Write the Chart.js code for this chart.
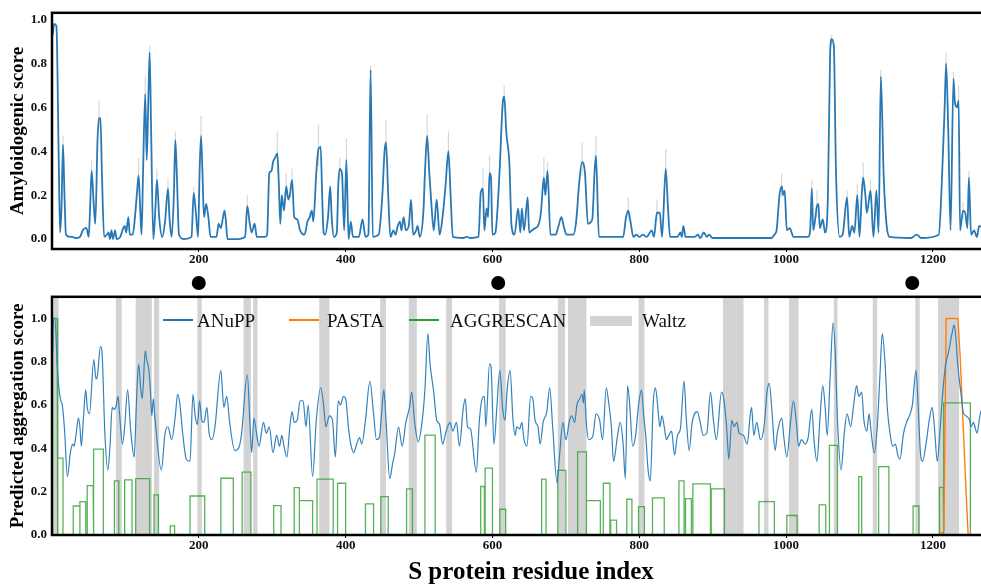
<!DOCTYPE html>
<html>
<head>
<meta charset="utf-8">
<script src="https://cdn.jsdelivr.net/npm/chart.js@4.4.1/dist/chart.umd.min.js"></script>
<style>
  html, body { margin: 0; padding: 0; background: #fff; }
  body { width: 981px; height: 585px; overflow: hidden; position: relative; font-family: "Liberation Serif", "Times New Roman", serif; }
  canvas { position: absolute; left: 0; }
  #topChart { top: 0; }
  #markChart { top: 268px; }
  #bottomChart { top: 284px; }
  .legend-line { position: absolute; width: 30px; height: 0; }
  .legend-box { position: absolute; background: #d3d3d3; }
  .legend-text { position: absolute; font-size: 19px; line-height: 19px; color: #111; white-space: nowrap; }
</style>
</head>
<body>
<canvas id="topChart" width="1012" height="300" style="width:1012px;height:300px"></canvas>
<canvas id="bottomChart" width="1012" height="304" style="width:1012px;height:304px"></canvas>
<canvas id="markChart" width="1012" height="30" style="width:1012px;height:30px"></canvas>

<div class="legend-line" style="left:163px;top:319px;border-top:2px solid #1f77b4"></div>
<div class="legend-text" style="left:197px;top:311px">ANuPP</div>
<div class="legend-line" style="left:289px;top:319px;border-top:2px solid #ff7f0e"></div>
<div class="legend-text" style="left:327px;top:311px">PASTA</div>
<div class="legend-line" style="left:409px;top:319px;border-top:2px solid #2ca02c"></div>
<div class="legend-text" style="left:450px;top:311px">AGGRESCAN</div>
<div class="legend-box" style="left:590px;top:316px;width:42px;height:10px"></div>
<div class="legend-text" style="left:642px;top:311px">Waltz</div>

<script>
// ---- data ----
const xTicks = [200, 400, 600, 800, 1000, 1200];
const yTicks = [0, 0.2, 0.4, 0.6, 0.8, 1.0];

// top panel: amyloidogenic score [residue, score]
const amyloidScore = [[1,0.93],[3,0.98],[6,0.97],[9,0.4],[11,0.03],[13,0.15],[15,0.43],[17,0.2],[19,0.02],[25,0.01],[28,0.01],[32,0.005],[38,0.01],[42,0.04],[45,0.05],[47,0.05],[50,0.01],[52,0.15],[54,0.31],[57,0.15],[59,0.07],[62,0.45],[64,0.55],[66,0.55],[68,0.3],[71,0.01],[75,0.02],[77,0.03],[79,0.0],[81,0.04],[83,0.0],[86,0.04],[88,0.0],[93,0.01],[97,0.05],[99,0.06],[101,0.03],[104,0.1],[106,0.02],[110,0.02],[113,0.1],[116,0.22],[118,0.29],[120,0.15],[122,0.02],[124,0.3],[127,0.66],[129,0.36],[131,0.6],[133,0.85],[135,0.5],[138,0.0],[141,0.15],[143,0.27],[146,0.1],[150,0.01],[154,0.08],[158,0.23],[160,0.1],[163,0.01],[166,0.2],[168,0.45],[170,0.3],[173,0.02],[180,0.0],[190,0.01],[193,0.21],[196,0.12],[199,0.01],[201,0.3],[203,0.47],[205,0.3],[207,0.1],[210,0.16],[213,0.1],[216,0.01],[224,0.01],[227,0.07],[230,0.05],[233,0.1],[235,0.13],[237,0.08],[239,0.0],[250,0.0],[263,0.01],[266,0.15],[269,0.08],[272,0.03],[276,0.07],[279,0.01],[290,0.01],[293,0.02],[296,0.3],[299,0.31],[301,0.35],[304,0.37],[307,0.39],[309,0.25],[311,0.07],[313,0.2],[316,0.13],[319,0.24],[322,0.18],[324,0.2],[327,0.27],[330,0.1],[334,0.09],[338,0.04],[344,0.02],[348,0.08],[351,0.1],[354,0.13],[356,0.08],[360,0.3],[363,0.41],[366,0.42],[368,0.2],[370,0.03],[372,0.02],[376,0.1],[379,0.24],[381,0.1],[384,0.01],[388,0.03],[390,0.25],[392,0.32],[395,0.3],[398,0.04],[401,0.36],[404,0.0],[407,0.08],[410,0.01],[418,0.01],[423,0.09],[427,0.01],[431,0.02],[434,0.77],[437,0.01],[445,0.02],[450,0.2],[453,0.4],[455,0.44],[458,0.2],[461,0.01],[465,0.04],[468,0.02],[471,0.06],[474,0.08],[476,0.04],[479,0.1],[482,0.04],[486,0.06],[489,0.18],[492,0.02],[496,0.04],[498,0.06],[501,0.01],[506,0.13],[508,0.3],[511,0.47],[514,0.3],[517,0.15],[520,0.04],[524,0.18],[528,0.02],[532,0.1],[536,0.24],[540,0.4],[543,0.2],[546,0.01],[560,0.005],[565,0.01],[570,0.005],[581,0.01],[584,0.21],[587,0.23],[589,0.04],[592,0.14],[594,0.1],[596,0.3],[598,0.28],[600,0.02],[604,0.03],[608,0.2],[610,0.33],[614,0.62],[616,0.65],[619,0.48],[623,0.35],[626,0.06],[630,0.02],[635,0.14],[638,0.03],[640,0.14],[643,0.04],[648,0.19],[650,0.03],[654,0.04],[658,0.05],[662,0.06],[666,0.12],[670,0.28],[672,0.2],[675,0.31],[679,0.02],[686,0.02],[690,0.06],[694,0.1],[697,0.06],[701,0.02],[710,0.02],[714,0.08],[718,0.25],[722,0.35],[726,0.3],[730,0.07],[736,0.09],[739,0.3],[741,0.38],[745,0.01],[760,0.01],[778,0.01],[782,0.1],[785,0.13],[788,0.08],[792,0.01],[796,0.02],[800,0.01],[805,0.02],[810,0.01],[817,0.04],[820,0.01],[824,0.12],[828,0.12],[831,0.01],[836,0.32],[839,0.15],[842,0.01],[852,0.01],[856,0.03],[858,0.01],[860,0.06],[863,0.01],[875,0.01],[880,0.02],[883,0.005],[888,0.03],[892,0.01],[895,0.02],[900,0.005],[980,0.005],[984,0.02],[987,0.04],[991,0.2],[994,0.24],[996,0.2],[998,0.22],[1001,0.04],[1005,0.05],[1010,0.01],[1030,0.01],[1033,0.05],[1035,0.23],[1037,0.04],[1042,0.15],[1044,0.16],[1046,0.05],[1050,0.09],[1053,0.03],[1057,0.2],[1060,0.85],[1062,0.91],[1065,0.88],[1068,0.3],[1073,0.01],[1077,0.02],[1083,0.19],[1086,0.01],[1090,0.06],[1093,0.03],[1097,0.2],[1100,0.01],[1103,0.2],[1105,0.28],[1108,0.2],[1110,0.12],[1115,0.22],[1119,0.01],[1123,0.22],[1126,0.03],[1129,0.74],[1133,0.28],[1137,0.06],[1141,0.01],[1170,0.005],[1178,0.02],[1184,0.005],[1208,0.02],[1212,0.25],[1216,0.6],[1218,0.8],[1221,0.48],[1224,0.04],[1228,0.73],[1230,0.62],[1233,0.6],[1235,0.63],[1237,0.04],[1241,0.13],[1244,0.12],[1247,0.05],[1249,0.28],[1252,0.02],[1256,0.04],[1260,0.01],[1263,0.06],[1268,0.05]];

// grey error bars on the top panel [residue, low, high]
const amyloidError = [[15,0.40,0.47],[54,0.27,0.36],[64,0.50,0.63],[118,0.24,0.37],[127,0.55,0.74],[133,0.80,0.88],[143,0.22,0.32],[158,0.19,0.28],[168,0.41,0.49],[193,0.18,0.24],[203,0.42,0.56],[266,0.12,0.20],[307,0.30,0.49],[319,0.19,0.30],[327,0.22,0.32],[363,0.33,0.52],[392,0.27,0.37],[401,0.30,0.46],[434,0.74,0.79],[455,0.38,0.54],[511,0.40,0.57],[540,0.33,0.49],[587,0.17,0.32],[596,0.24,0.38],[616,0.60,0.70],[670,0.22,0.37],[675,0.25,0.35],[722,0.29,0.44],[741,0.30,0.47],[785,0.09,0.19],[824,0.08,0.18],[836,0.26,0.41],[994,0.19,0.30],[1035,0.18,0.27],[1042,0.10,0.22],[1062,0.88,0.93],[1083,0.15,0.22],[1097,0.15,0.25],[1105,0.22,0.35],[1115,0.17,0.27],[1129,0.70,0.77],[1218,0.74,0.85],[1228,0.68,0.76],[1235,0.45,0.70],[1241,0.09,0.17],[1249,0.24,0.31]];

// marked residues between the panels
const markedResidues = [201, 611, 1178];

// bottom panel
const anuppScore = [[1,0.85],[2,1.0],[4,1.0],[7,0.79],[10,0.66],[12,0.62],[14,0.6],[17,0.49],[21,0.27],[25,0.38],[28,0.42],[30,0.41],[33,0.47],[36,0.54],[38,0.5],[40,0.41],[43,0.55],[46,0.67],[48,0.59],[51,0.56],[57,0.81],[60,0.72],[62,0.74],[66,0.87],[68,0.85],[72,0.47],[76,0.30],[79,0.41],[82,0.59],[84,0.58],[87,0.59],[90,0.64],[92,0.56],[96,0.42],[99,0.5],[103,0.67],[107,0.49],[112,0.36],[115,0.61],[118,0.79],[121,0.67],[123,0.63],[127,0.85],[129,0.81],[132,0.76],[134,0.67],[136,0.55],[138,0.63],[140,0.55],[149,0.30],[154,0.47],[158,0.5],[163,0.44],[168,0.55],[171,0.65],[174,0.61],[178,0.47],[183,0.35],[188,0.34],[192,0.65],[195,0.55],[198,0.51],[201,0.62],[204,0.53],[207,0.52],[211,0.59],[214,0.47],[218,0.44],[222,0.5],[230,0.76],[234,0.59],[238,0.64],[242,0.52],[249,0.39],[254,0.4],[258,0.46],[266,0.74],[270,0.49],[272,0.38],[275,0.54],[279,0.46],[282,0.41],[288,0.52],[292,0.47],[296,0.5],[301,0.38],[306,0.46],[310,0.41],[313,0.46],[316,0.41],[320,0.36],[324,0.5],[327,0.57],[330,0.52],[334,0.53],[338,0.62],[342,0.62],[346,0.5],[349,0.6],[355,0.27],[360,0.53],[366,0.68],[370,0.6],[373,0.5],[378,0.55],[382,0.53],[386,0.36],[390,0.62],[393,0.6],[397,0.64],[400,0.63],[404,0.49],[407,0.42],[411,0.38],[415,0.42],[419,0.45],[422,0.42],[427,0.53],[433,0.71],[438,0.56],[442,0.44],[446,0.45],[449,0.56],[452,0.67],[455,0.53],[460,0.26],[464,0.33],[467,0.38],[472,0.5],[477,0.41],[482,0.52],[487,0.59],[490,0.66],[494,0.52],[499,0.43],[504,0.52],[508,0.67],[512,0.93],[515,0.79],[520,0.66],[524,0.53],[528,0.51],[532,0.42],[537,0.48],[542,0.52],[546,0.48],[551,0.52],[555,0.41],[560,0.58],[563,0.63],[566,0.5],[570,0.49],[578,0.29],[582,0.52],[586,0.63],[589,0.64],[591,0.5],[596,0.79],[598,0.78],[602,0.42],[606,0.59],[610,0.76],[614,0.58],[617,0.53],[620,0.67],[624,0.76],[628,0.53],[631,0.46],[633,0.5],[637,0.49],[640,0.52],[643,0.44],[647,0.41],[652,0.64],[655,0.63],[658,0.53],[662,0.5],[665,0.42],[669,0.52],[674,0.57],[678,0.68],[682,0.5],[688,0.24],[691,0.35],[696,0.52],[700,0.44],[705,0.53],[708,0.55],[712,0.52],[715,0.6],[719,0.63],[722,0.65],[724,0.61],[725,0.67],[728,0.51],[731,0.44],[737,0.46],[741,0.56],[746,0.53],[750,0.44],[755,0.68],[758,0.62],[762,0.5],[765,0.34],[770,0.45],[774,0.52],[778,0.42],[781,0.26],[784,0.69],[787,0.6],[791,0.41],[795,0.46],[799,0.6],[803,0.67],[806,0.55],[809,0.45],[812,0.3],[815,0.25],[819,0.61],[822,0.68],[825,0.6],[828,0.5],[831,0.55],[834,0.5],[837,0.44],[840,0.46],[844,0.48],[848,0.37],[852,0.46],[856,0.49],[861,0.71],[864,0.54],[868,0.39],[872,0.52],[879,0.57],[883,0.52],[887,0.46],[892,0.47],[897,0.66],[901,0.53],[905,0.44],[912,0.66],[915,0.63],[919,0.5],[922,0.35],[926,0.53],[929,0.5],[933,0.52],[936,0.47],[942,0.46],[947,0.42],[951,0.55],[953,0.59],[956,0.46],[960,0.52],[965,0.44],[970,0.5],[974,0.66],[977,0.7],[981,0.56],[985,0.39],[988,0.47],[994,0.54],[997,0.45],[1001,0.36],[1006,0.52],[1010,0.62],[1014,0.52],[1017,0.41],[1021,0.44],[1026,0.42],[1030,0.45],[1035,0.58],[1038,0.44],[1042,0.34],[1046,0.53],[1050,0.69],[1053,0.6],[1056,0.46],[1060,0.73],[1064,0.98],[1067,0.84],[1070,0.53],[1075,0.3],[1079,0.46],[1083,0.56],[1088,0.5],[1092,0.6],[1096,0.69],[1099,0.64],[1103,0.66],[1106,0.53],[1110,0.48],[1113,0.56],[1116,0.47],[1120,0.38],[1124,0.49],[1128,0.75],[1131,0.93],[1135,0.78],[1138,0.58],[1142,0.46],[1145,0.41],[1149,0.42],[1152,0.37],[1155,0.35],[1160,0.47],[1164,0.52],[1168,0.55],[1172,0.6],[1177,0.76],[1180,0.59],[1183,0.38],[1186,0.34],[1191,0.43],[1195,0.53],[1199,0.59],[1202,0.5],[1206,0.34],[1209,0.45],[1213,0.64],[1217,0.78],[1221,0.84],[1226,0.93],[1229,0.97],[1231,0.92],[1234,0.78],[1239,0.63],[1241,0.57],[1245,0.55],[1250,0.53],[1252,0.5],[1255,0.52],[1258,0.49],[1260,0.47],[1264,0.55],[1268,0.6]];

const pastaScore = [[1208,0],[1215,0.02],[1218,1.0],[1234,1.0],[1237,0.83],[1241,0.52],[1245,0.21],[1248,0]];

// AGGRESCAN hot spots [start, end, score]
const aggrescanSegments = [[1,7,1.0],[8,15,0.355],[29,38,0.134],[38,46,0.154],[48,56,0.228],[57,70,0.397],[85,91,0.25],[99,109,0.255],[114,133,0.26],[139,145,0.185],[161,167,0.042],[188,208,0.18],[230,247,0.262],[259,271,0.29],[302,312,0.136],[330,337,0.219],[337,355,0.159],[361,383,0.258],[389,400,0.239],[427,438,0.144],[448,458,0.177],[483,491,0.213],[508,522,0.461],[584,589,0.224],[590,600,0.309],[610,618,0.119],[667,673,0.258],[689,700,0.298],[716,728,0.384],[728,747,0.159],[751,760,0.239],[761,769,0.069],[783,790,0.165],[799,807,0.131],[818,834,0.171],[854,861,0.25],[863,871,0.168],[873,897,0.236],[898,916,0.213],[963,984,0.154],[1001,1015,0.09],[1045,1054,0.139],[1059,1070,0.414],[1099,1103,0.27],[1126,1140,0.316],[1173,1181,0.134],[1209,1214,0.22],[1215,1251,0.61]];

// Waltz regions [start, end]
const waltzRegions = [[2,9],[87,95],[114,136],[139,146],[198,204],[261,271],[274,280],[364,378],[447,455],[486,497],[537,545],[609,618],[689,699],[703,728],[799,807],[914,942],[970,976],[1004,1017],[1065,1070],[1118,1124],[1176,1182],[1207,1236]];

// ---- helpers ----
const serif = '"Liberation Serif", "Times New Roman", serif';
const xMin = 0, xMax = 1305;

const framePlugin = {
    id: 'frame',
    afterDatasetsDraw(chart) {
        const { ctx, chartArea: a } = chart;
        ctx.save();
        ctx.strokeStyle = '#000';
        ctx.lineWidth = 2.5;
        ctx.strokeRect(a.left, a.top, a.right - a.left, a.bottom - a.top);
        ctx.restore();
    }
};

function xScale(height, withTitle) {
    return {
        type: 'linear', min: xMin, max: xMax,
        afterBuildTicks: s => { s.ticks = xTicks.map(v => ({ value: v })); },
        afterFit: s => { s.height = height; },
        grid: { display: true, drawOnChartArea: false, drawTicks: true, tickLength: 3, color: '#000', lineWidth: 1 },
        border: { display: false },
        ticks: { color: '#111', padding: 0, maxRotation: 0, callback: v => String(v), font: { family: serif, size: 13, weight: 'bold' } },
        title: {
            display: withTitle, text: 'S protein residue index', color: '#000',
            font: { family: serif, size: 25, weight: 'bold' }, padding: { top: 0, bottom: 0 }
        }
    };
}

function yScale(min, max, label) {
    return {
        min: min, max: max,
        afterBuildTicks: s => { s.ticks = yTicks.map(v => ({ value: v })); },
        afterFit: s => { s.width = 52; },
        grid: { display: false, drawTicks: false },
        border: { display: false },
        ticks: { color: '#111', padding: 5, callback: v => v.toFixed(1), font: { family: serif, size: 13, weight: 'bold' } },
        title: {
            display: true, text: label, color: '#000',
            font: { family: serif, size: 19, weight: 'bold' }, padding: { top: 7, bottom: 0 }
        }
    };
}

const commonOpts = {
    responsive: false,
    animation: false,
    events: [],
    plugins: { legend: { display: false }, tooltip: { enabled: false } }
};

// ---- top chart ----
const errorPoints = [];
amyloidError.forEach(([r, lo, hi]) => {
    errorPoints.push({ x: r, y: lo }, { x: r, y: hi }, { x: r, y: null });
});

new Chart(document.getElementById('topChart'), {
    type: 'line',
    data: {
        datasets: [{
            label: 'Amyloidogenic score',
            data: amyloidScore.map(([x, y]) => ({ x, y })),
            borderColor: '#2878b5', borderWidth: 1.8, pointRadius: 0,
            cubicInterpolationMode: 'monotone'
        }, {
            label: 'error',
            data: errorPoints,
            borderColor: 'rgba(200,200,200,0.7)', borderWidth: 1.2, pointRadius: 0, spanGaps: false
        }]
    },
    options: {
        ...commonOpts,
        layout: { padding: { left: 0, right: 2, top: 12, bottom: 0 } },
        scales: { x: xScale(51, false), y: yScale(-0.045, 1.03, 'Amyloidogenic score') }
    },
    plugins: [framePlugin]
});

// ---- marked residues (dots between the panels) ----
new Chart(document.getElementById('markChart'), {
    type: 'scatter',
    data: {
        datasets: [{
            data: markedResidues.map(r => ({ x: r, y: 0.5 })),
            pointRadius: 7, pointBackgroundColor: '#000', pointBorderWidth: 0
        }]
    },
    options: {
        ...commonOpts,
        layout: { padding: { left: 52, right: 2, top: 0, bottom: 0 } },
        scales: {
            x: { type: 'linear', min: xMin, max: xMax, display: false },
            y: { min: 0, max: 1, display: false }
        }
    }
});

// ---- bottom chart ----
const waltzPoints = [];
waltzRegions.forEach(([s, e]) => {
    waltzPoints.push({ x: s, y: 0 }, { x: s, y: 1.1 }, { x: e, y: 1.1 }, { x: e, y: 0 });
});
const aggrescanPoints = [];
aggrescanSegments.forEach(([s, e, v]) => {
    aggrescanPoints.push({ x: s, y: 0 }, { x: s, y: v }, { x: e, y: v }, { x: e, y: 0 });
});

new Chart(document.getElementById('bottomChart'), {
    type: 'line',
    data: {
        datasets: [{
            label: 'ANuPP',
            data: anuppScore.map(([x, y]) => ({ x, y })),
            borderColor: '#3282bd', borderWidth: 1.2, pointRadius: 0,
            cubicInterpolationMode: 'monotone'
        }, {
            label: 'PASTA',
            data: pastaScore.map(([x, y]) => ({ x, y })),
            borderColor: '#ff7f0e', borderWidth: 1.4, pointRadius: 0
        }, {
            label: 'AGGRESCAN',
            data: aggrescanPoints,
            borderColor: 'rgba(44,160,44,0.8)', borderWidth: 1.3, pointRadius: 0
        }, {
            label: 'Waltz',
            data: waltzPoints,
            borderWidth: 0, borderColor: 'rgba(0,0,0,0)', backgroundColor: '#d3d3d3',
            fill: 'origin', pointRadius: 0
        }]
    },
    options: {
        ...commonOpts,
        layout: { padding: { left: 0, right: 2, top: 12, bottom: 0 } },
        scales: { x: xScale(53, true), y: yScale(0, 1.1, 'Predicted aggregation score') }
    },
    plugins: [framePlugin]
});
</script>
</body>
</html>
